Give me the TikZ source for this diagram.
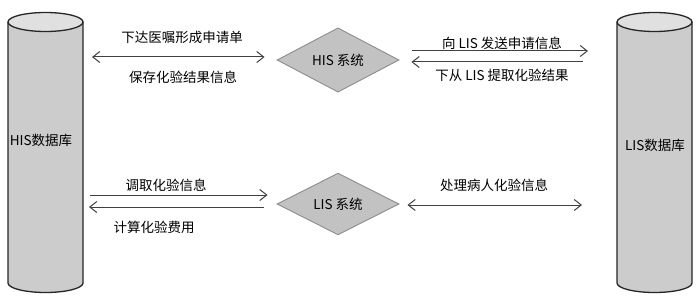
\documentclass[tikz,border=0pt]{standalone}
\usepackage{fontspec}
\setmainfont{Noto Sans CJK SC}
\usetikzlibrary{arrows.meta,shapes.geometric}

\begin{document}
\begin{tikzpicture}[
  x=1pt, y=-1pt,
  font=\fontsize{13.5}{16}\selectfont,
  db/.style={
    minimum width=75pt,
    minimum height=261pt,
    inner sep=0pt,
    outer sep=0pt
  },
  dbline/.style={draw=black!85, line width=1.3pt},
  sys/.style={
    diamond,
    draw=black!45,
    line width=0.9pt,
    fill=black!24,
    minimum width=122pt,
    minimum height=57pt,
    inner sep=0pt
  },
  lbl/.style={inner sep=0pt},
  link/.style={line width=1pt, draw=black!75},
  fwd/.style={link, -{Straight Barb[length=7pt,width=11pt]}},
  both/.style={link, {Straight Barb[length=7pt,width=11pt]}-{Straight Barb[length=7pt,width=11pt]}}
]

\useasboundingbox (0,0) rectangle (700,299);

\node[db] (hisdb) at (45.5,152.5) {};
\node[db] (lisdb) at (654.5,152.5) {};

% cylinder outlines
\draw[dbline, fill=black!20] (hisdb.north west) -- (hisdb.south west)
  arc[start angle=180, end angle=360, x radius=37.5pt, y radius=9.5pt] -- (hisdb.north east);
\draw[dbline, fill=black!12] (hisdb.north) ellipse [x radius=37.5pt, y radius=9.5pt];
\draw[dbline, fill=black!20] (lisdb.north west) -- (lisdb.south west)
  arc[start angle=180, end angle=360, x radius=37.5pt, y radius=9.5pt] -- (lisdb.north east);
\draw[dbline, fill=black!12] (lisdb.north) ellipse [x radius=37.5pt, y radius=9.5pt];

\node[lbl] (hisdbtext) at (41,140) {HIS数据库};
\node[lbl] (lisdbtext) at (655,145) {LIS数据库};

\node[sys] (hissys) at (338,60) {HIS 系统};
\node[sys] (lissys) at (338,204) {LIS 系统};

\node[lbl] (ordertext) at (182,37) {下达医嘱形成申请单};
\node[lbl] (savetext) at (183,77) {保存化验结果信息};
\node[lbl] (sendtext) at (502,43) {向 LIS 发送申请信息};
\node[lbl] (fetchtext) at (502,75) {下从 LIS 提取化验结果};
\node[lbl] (readtext) at (166,185) {调取化验信息};
\node[lbl] (feetext) at (154,227) {计算化验费用};
\node[lbl] (handletext) at (494,185) {处理病人化验信息};

\draw[both, shorten <=9pt, shorten >=12pt] ([yshift=3pt]hisdb.east |- hissys.west) -- ([yshift=3pt]hissys.west);
\draw[fwd, shorten <=13pt, shorten >=29pt] ([yshift=9pt]hissys.east) -- ([yshift=9pt]lisdb.west |- hissys.east);
\draw[fwd, shorten <=34pt, shorten >=12pt] ([yshift=-2pt]lisdb.west |- hissys.east) -- ([yshift=-2pt]hissys.east);
\draw[fwd, shorten <=7pt, shorten >=9pt] ([yshift=9pt]hisdb.east |- lissys.west) -- ([yshift=9pt]lissys.west);
\draw[fwd, shorten <=13pt, shorten >=6pt] ([yshift=-3pt]lissys.west) -- ([yshift=-3pt]hisdb.east |- lissys.west);
\draw[both, shorten <=8pt, shorten >=35pt] ([yshift=-1pt]lissys.east) -- ([yshift=-1pt]lisdb.west |- lissys.east);

\end{tikzpicture}
\end{document}
